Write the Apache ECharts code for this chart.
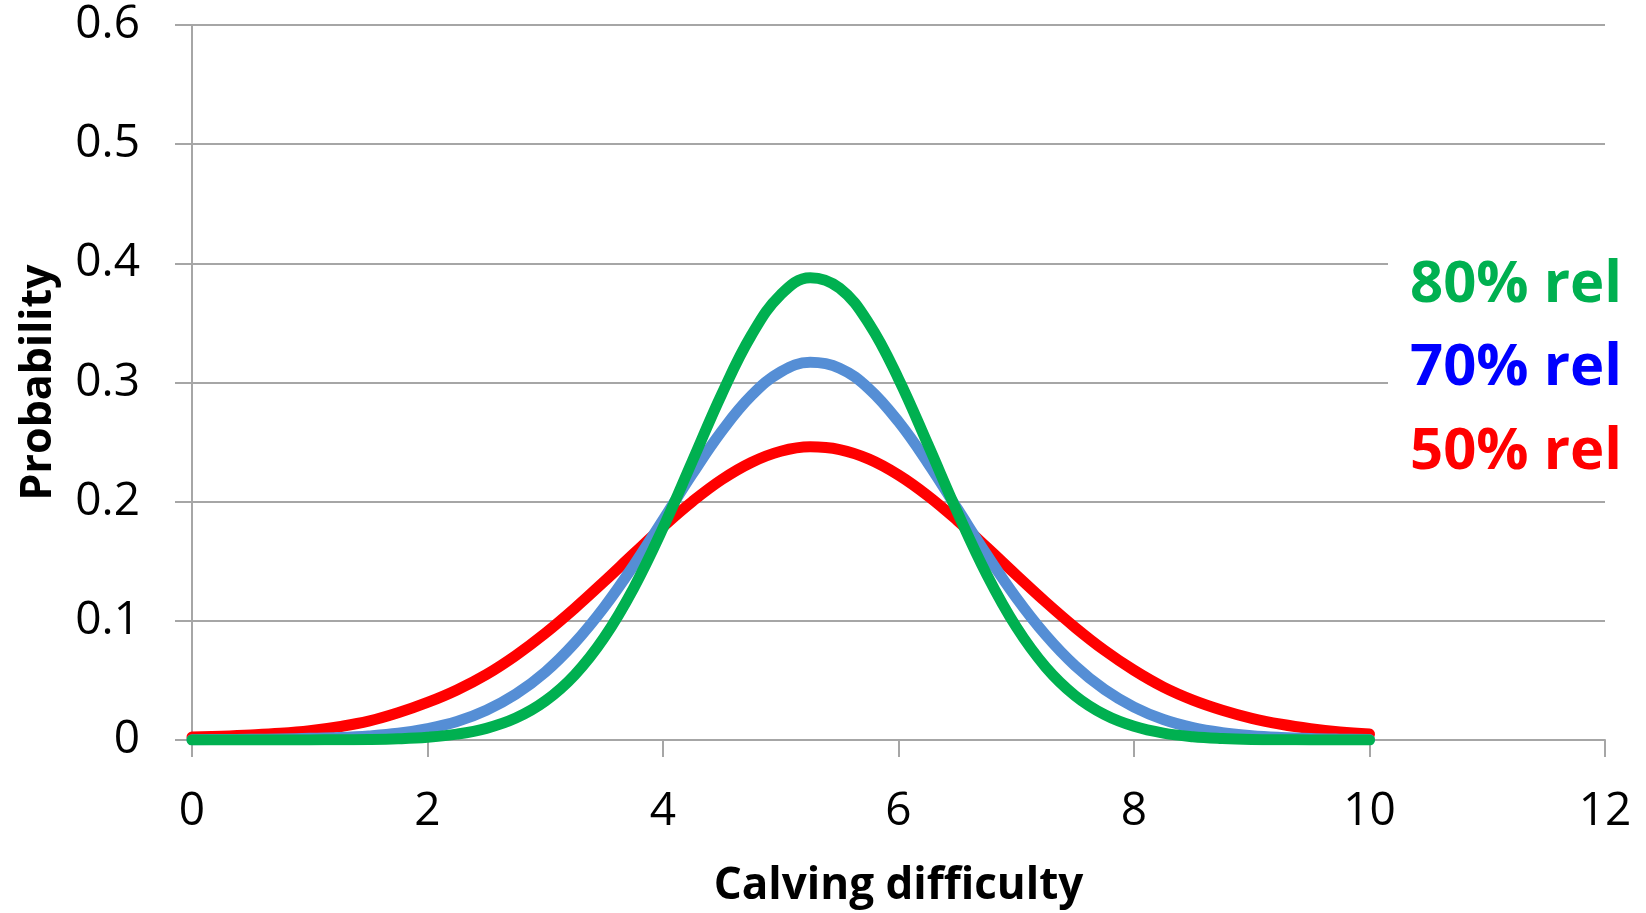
<!DOCTYPE html>
<html><head><meta charset="utf-8">
<script src="https://cdn.jsdelivr.net/npm/echarts@6/dist/echarts.min.js"></script>
<style>html,body{margin:0;padding:0;background:#fff}#c{width:1646px;height:913px}</style>
</head><body><div id="c"></div>
<script>
const xValues = [0,0.25,0.5,0.75,1,1.25,1.5,1.75,2,2.25,2.5,2.75,3,3.25,3.5,3.75,4,4.25,4.5,4.75,5,5.25,5.5,5.75,6,6.25,6.5,6.75,7,7.25,7.5,7.75,8,8.25,8.5,8.75,9,9.25,9.5,9.75,10];
const red50 = [0.0025,0.0032,0.0042,0.0056,0.0078,0.0112,0.0158,0.0228,0.0315,0.0420,0.0550,0.0710,0.0896,0.1105,0.1330,0.1562,0.1790,0.2002,0.2186,0.2329,0.2423,0.2460,0.2437,0.2357,0.2224,0.2049,0.1842,0.1617,0.1385,0.1158,0.0945,0.0752,0.0585,0.0444,0.0335,0.0250,0.0182,0.0132,0.0095,0.0068,0.0050];
const blue70 = [0.0003,0.0004,0.0006,0.0009,0.0014,0.0021,0.0034,0.0056,0.0095,0.0155,0.0250,0.0385,0.0570,0.0814,0.1114,0.1464,0.1846,0.2234,0.2593,0.2889,0.3089,0.3169,0.3120,0.2947,0.2671,0.2324,0.1940,0.1554,0.1194,0.0881,0.0623,0.0423,0.0276,0.0172,0.0104,0.0062,0.0036,0.0021,0.0012,0.0007,0.0004];
const green80 = [0.0000,0.0000,0.0000,0.0000,0.0001,0.0002,0.0004,0.0010,0.0023,0.0049,0.0098,0.0184,0.0327,0.0546,0.0859,0.1273,0.1779,0.2342,0.2905,0.3395,0.3738,0.3880,0.3792,0.3493,0.3031,0.2479,0.1911,0.1387,0.0949,0.0612,0.0372,0.0213,0.0115,0.0058,0.0028,0.0013,0.0005,0.0002,0.0001,0.0000,0.0000];
const seriesNames = ['50% rel','70% rel','80% rel'];
const xTitle = 'Calving difficulty';
const yTitle = 'Probability';

const FONT = '"Open Sans", "Noto Sans", sans-serif';
const GRAY = '#A6A6A6';
const chart = echarts.init(document.getElementById('c'), null, {renderer:'canvas'});
const mk = (arr) => xValues.map((x,i)=>[x, arr[i]]);
const lineSeries = (name, arr, color) => ({
  name, type:'line', data: mk(arr), smooth: 0.4, showSymbol:false, symbol:'none',
  lineStyle:{color, width:11, cap:'round', join:'round'}, itemStyle:{color},
  emphasis:{disabled:true}
});
chart.setOption({
  animation:false,
  backgroundColor:'#fff',
  grid:{left:192, right:41, top:25, bottom:168},
  xAxis:{
    type:'value', min:0, max:12, interval:2,
    name:xTitle, nameLocation:'middle', nameGap:124,
    nameTextStyle:{fontFamily:FONT, fontWeight:'bold', fontSize:44, color:'#000'},
    axisLine:{show:true, lineStyle:{color:GRAY, width:2}},
    axisTick:{show:true, length:17, lineStyle:{color:GRAY, width:2}},
    axisLabel:{fontFamily:FONT, fontSize:46, color:'#000', margin:49},
    splitLine:{show:false}
  },
  yAxis:{
    type:'value', min:0, max:0.6, interval:0.1,
    name:yTitle, nameLocation:'middle', nameGap:132, nameRotate:90,
    nameTextStyle:{fontFamily:FONT, fontWeight:'bold', fontSize:43, color:'#000'},
    axisLine:{show:true, lineStyle:{color:GRAY, width:2}},
    axisTick:{show:true, length:17, lineStyle:{color:GRAY, width:2}},
    axisLabel:{fontFamily:FONT, fontSize:46, color:'#000', margin:52},
    splitLine:{show:true, lineStyle:{color:GRAY, width:2}}
  },
  series:[
    lineSeries(seriesNames[0], red50, '#FF0000'),
    lineSeries(seriesNames[1], blue70, '#558ED5'),
    lineSeries(seriesNames[2], green80, '#00B050')
  ],
  graphic:[
    {type:'rect', z:50, shape:{x:1388, y:155, width:258, height:340}, style:{fill:'#fff'}},
    {type:'text', z:51, x:1410, y:285, style:{text:seriesNames[2], fill:'#00B050', font:'bold 58px "Open Sans"', verticalAlign:'middle', align:'left'}},
    {type:'text', z:51, x:1410, y:368, style:{text:seriesNames[1], fill:'#0000FF', font:'bold 58px "Open Sans"', verticalAlign:'middle', align:'left'}},
    {type:'text', z:51, x:1410, y:452, style:{text:seriesNames[0], fill:'#FF0000', font:'bold 58px "Open Sans"', verticalAlign:'middle', align:'left'}}
  ]
});
</script></body></html>
